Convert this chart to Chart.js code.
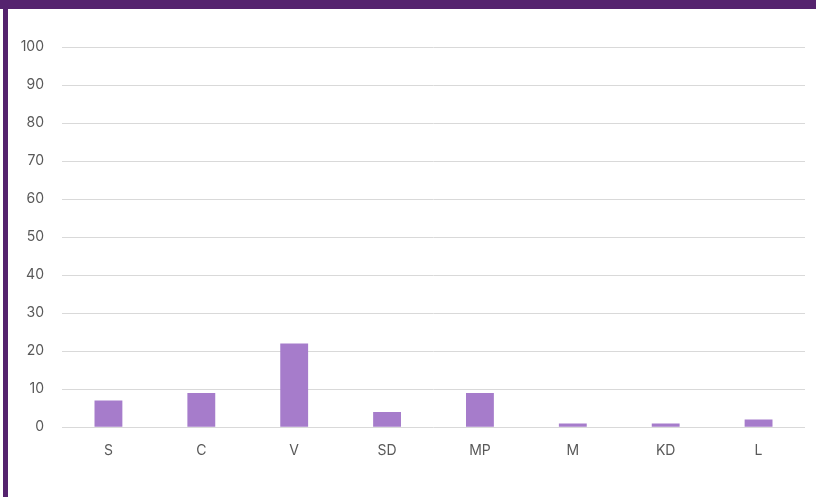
<!DOCTYPE html>
<html>
<head>
<meta charset="utf-8">
<script src="https://cdn.jsdelivr.net/npm/chart.js@4/dist/chart.umd.min.js"></script>
<style>
  html, body { margin: 0; padding: 0; background: #fff; }
  body { width: 816px; height: 497px; position: relative; overflow: hidden; }
  .topbar { position: absolute; left: 0; top: 0; width: 816px; height: 9px; background: #55236E; }
  .leftbar { position: absolute; left: 3px; top: 0; width: 5px; height: 497px; background: #55236E; }
  .wrap { position: absolute; left: 8px; top: 9px; width: 808px; height: 488px; }
</style>
</head>
<body>
<div class="topbar"></div>
<div class="leftbar"></div>
<div class="wrap"><canvas id="barChart"></canvas></div>
<script>
const categories = ['S', 'C', 'V', 'SD', 'MP', 'M', 'KD', 'L'];
const counts = [7, 9, 22, 4, 9, 1, 1, 2];

Chart.defaults.font.family = 'Inter, "Open Sans", sans-serif';
Chart.defaults.font.size = 14;
Chart.defaults.color = '#595959';

new Chart(document.getElementById('barChart'), {
  type: 'bar',
  data: {
    labels: categories,
    datasets: [{
      data: counts,
      backgroundColor: '#A67CCB',
      barPercentage: 0.6,
      categoryPercentage: 0.5
    }]
  },
  options: {
    responsive: true,
    maintainAspectRatio: false,
    animation: false,
    layout: { padding: { top: 38, right: 11, bottom: 31, left: 0 } },
    plugins: {
      legend: { display: false },
      tooltip: { enabled: false }
    },
    scales: {
      x: {
        grid: { display: false },
        border: { display: false },
        ticks: { padding: 7 }
      },
      y: {
        min: 0,
        max: 100,
        ticks: { stepSize: 10, padding: 18 },
        grid: { color: '#D9D9D9', drawTicks: false },
        border: { display: false },
        afterFit: (axis) => { axis.width = 54; }
      }
    }
  }
});
</script>
</body>
</html>
